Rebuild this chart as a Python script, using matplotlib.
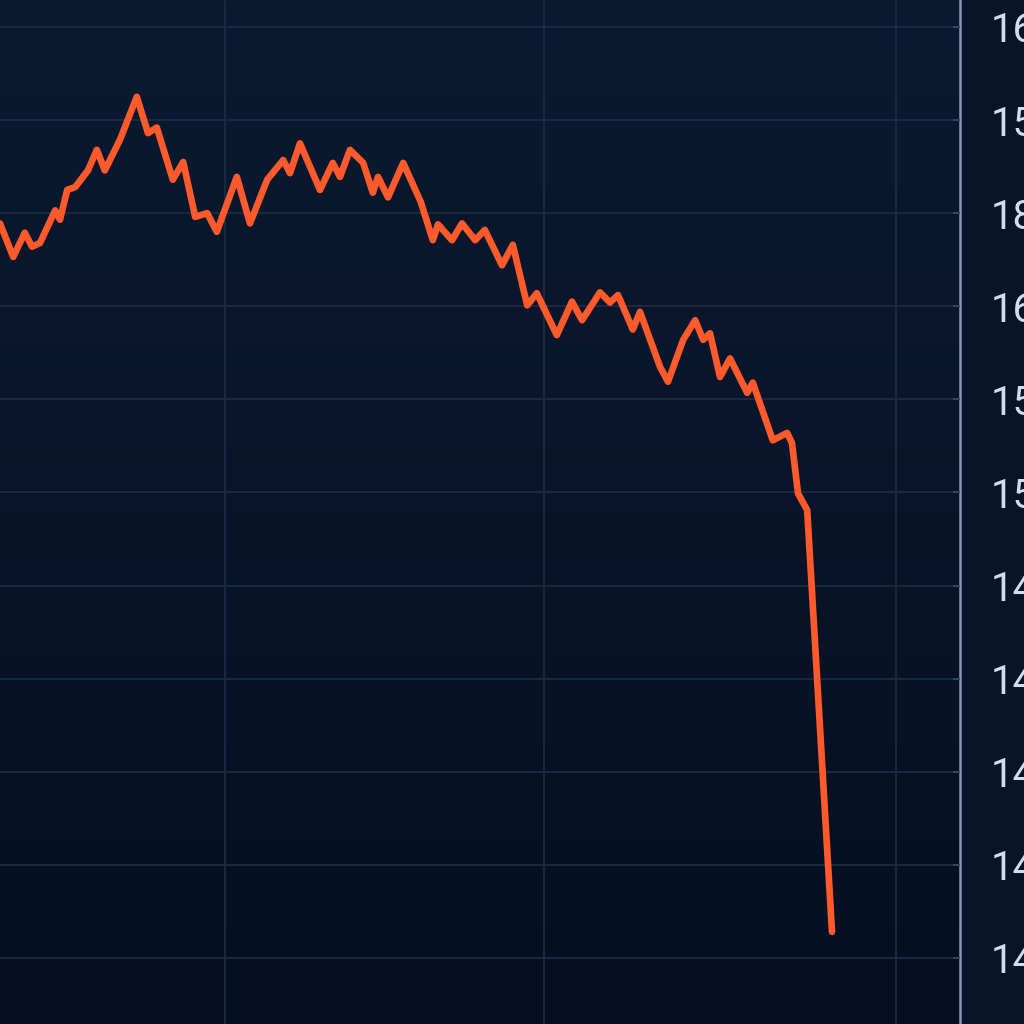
import numpy as np
import matplotlib.pyplot as plt

# price path (x in trading days, y in grid units)
days = [0, 3.3, 6.2, 8, 10, 13.8, 15, 16.8, 18.8, 22, 24.2, 26.2, 30, 34.2,
        37, 39.2, 43.2, 45.8, 48.8, 51.8, 54.2, 59.2, 62.5, 66.8, 70.8, 72.5,
        75, 80, 83.2, 85, 87.5, 90.8, 93.2, 94.5, 97, 100.8, 105.2, 108.2,
        109.5, 113, 115.5, 118.8, 121.2, 125.5, 128.2, 131.8, 134.2, 139.2,
        143, 145.5, 150, 152.5, 154.5, 158.2, 160, 165, 167, 170.8, 173.8,
        175.8, 177.5, 180, 182.5, 186.8, 188.2, 193.2, 196.8, 198, 199.5,
        201.8, 208]
price = [7.89, 7.53, 7.79, 7.64, 7.68, 8.03, 7.93, 8.25, 8.28, 8.46, 8.68,
         8.46, 8.79, 9.25, 8.86, 8.92, 8.36, 8.55, 7.96, 8.00, 7.80, 8.39,
         7.89, 8.36, 8.57, 8.43, 8.75, 8.25, 8.54, 8.39, 8.68, 8.54, 8.22,
         8.39, 8.17, 8.54, 8.12, 7.71, 7.88, 7.71, 7.89, 7.71, 7.82, 7.44,
         7.66, 7.01, 7.14, 6.69, 7.05, 6.85, 7.15, 7.04, 7.12, 6.75, 6.94,
         6.35, 6.19, 6.64, 6.85, 6.64, 6.71, 6.24, 6.44, 6.07, 6.18, 5.56,
         5.64, 5.53, 4.99, 4.81, 0.28]

ytick_vals = list(range(11))
ytick_labels = ['14', '14', '14', '14', '14', '15', '15', '16', '18', '15', '16']
xgrid = [56.25, 136, 224]

bg = '#081428'
fig = plt.figure(figsize=(10.24, 10.24), dpi=100, facecolor=bg)
ax = fig.add_axes([0, 0, 960 / 1024, 1])
ax.set_facecolor(bg)

# faint vertical shading: slightly lighter navy at the top
grad = np.linspace(1, 0, 256).reshape(-1, 1)
cmap = plt.matplotlib.colors.LinearSegmentedColormap.from_list(
    'bgfade', ['#050f21', '#0b1a31'])
ax.imshow(grad, cmap=cmap, aspect='auto', extent=[0, 1, 0, 1],
          transform=ax.transAxes, zorder=0, origin='upper')

ax.plot(days, price, color='#ff5a2c', lw=4.8, solid_joinstyle='round',
        solid_capstyle='round', zorder=3)

ax.set_xlim(0, 240)
ax.set_ylim(-0.71, 10.29)
ax.set_xticks(xgrid)
ax.set_yticks(ytick_vals)
ax.set_yticklabels(ytick_labels)
ax.set_axisbelow(False)
ax.grid(True, color='#1c2b45', lw=1.3, zorder=1)
ax.yaxis.tick_right()
ax.tick_params(axis='x', length=0, labelbottom=False)
ax.tick_params(axis='y', direction='in', length=5, width=1.2, color='#3a4c6a',
               labelcolor='#d3deec', labelsize=29, pad=22)
for t in ax.get_yticklabels():
    t.set_family('Roboto')
for s in ['top', 'bottom', 'left']:
    ax.spines[s].set_visible(False)
ax.spines['right'].set_color('#8796b4')
ax.spines['right'].set_linewidth(1.8)

fig.savefig('out.png', dpi=100, facecolor=bg)
